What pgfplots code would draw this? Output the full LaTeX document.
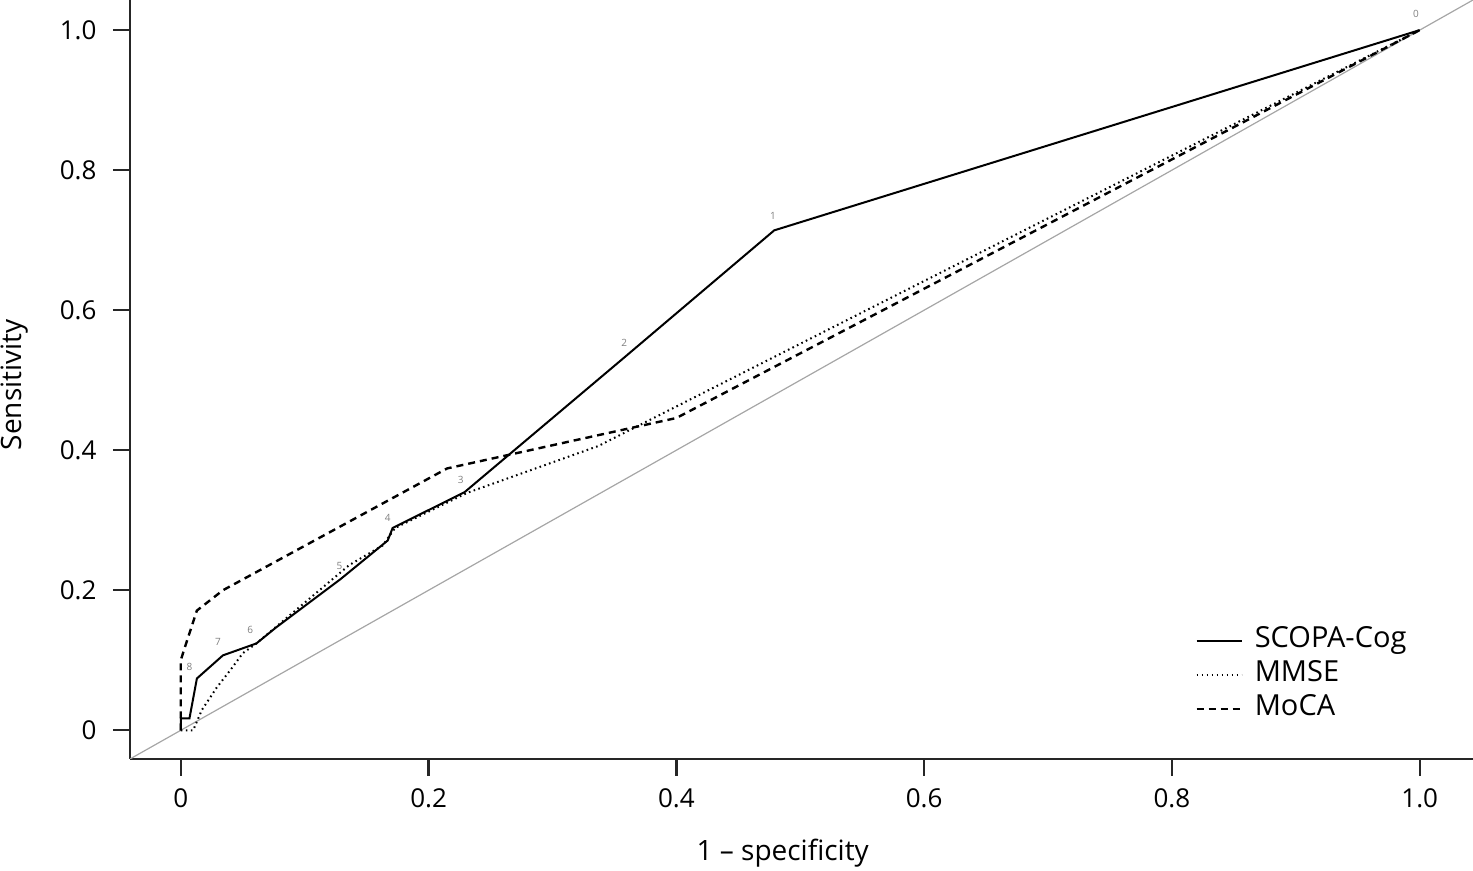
\documentclass[border=0pt]{standalone}
\usepackage{fontspec}
\setmainfont{Open Sans}
\usepackage{pgfplots}
\pgfplotsset{compat=1.18}

\begin{document}
\begin{tikzpicture}
\useasboundingbox (-65pt,-56pt) rectangle (671.5pt,379.5pt);
\begin{axis}[
    at={(0,0)}, anchor=south west,
    scale only axis,
    width=671.5pt, height=379.5pt,
    xmin=-0.041, xmax=1.043,
    ymin=-0.041, ymax=1.043,
    axis x line*=bottom,
    axis y line*=left,
    axis line style={-, line width=1.2pt, black!85},
    tick align=outside,
    major tick length=8.5pt,
    tick style={line width=1.2pt, black!85},
    xtick={0,0.2,0.4,0.6,0.8,1},
    xticklabels={0,0.2,0.4,0.6,0.8,1.0},
    ytick={0,0.2,0.4,0.6,0.8,1},
    yticklabels={0,0.2,0.4,0.6,0.8,1.0},
    x tick label style={font=\fontsize{13}{15}\selectfont, yshift=-2.7pt},
    y tick label style={font=\fontsize{13}{15}\selectfont, xshift=-4.7pt},
    xlabel={1 – specificity},
    ylabel={Sensitivity},
    xlabel style={font=\fontsize{14}{16}\selectfont, at={([yshift=-47pt]rel axis cs:0.486,0)}, anchor=center},
    ylabel style={font=\fontsize{14}{16}\selectfont, at={([xshift=-57.5pt]rel axis cs:0,0.493)}, anchor=center, rotate=0},
    legend cell align=left,
    legend style={draw=none, fill=none, inner sep=0pt,
        at={(rel axis cs:0.793,0.043)}, anchor=south west,
        font=\fontsize{14.5}{16}\selectfont,
        nodes={text height=10pt, text depth=3pt, inner sep=2pt},
        column sep=4pt},
    legend image code/.code={\draw[#1] (0pt,0pt) -- (22.5pt,0pt);},
]
% chance line
\addplot[gray!70, line width=0.6pt, forget plot] coordinates {(-0.041,-0.041) (1.043,1.043)};

% SCOPA-Cog
\addplot[black, line width=1pt] coordinates {
    (0,0) (0,0.017) (0.007,0.017) (0.009,0.036) (0.013,0.074)
    (0.034,0.107) (0.061,0.124) (0.077,0.147) (0.129,0.216)
    (0.167,0.271) (0.171,0.289) (0.229,0.340) (0.357,0.531)
    (0.479,0.714) (1,1)
};
% MMSE
\addplot[black, line width=1pt, dash pattern=on 0.8pt off 1.7pt] coordinates {
    (0,0) (0.010,0) (0.017,0.029) (0.029,0.061) (0.040,0.086)
    (0.050,0.110) (0.061,0.124) (0.136,0.236) (0.163,0.264)
    (0.173,0.289) (0.231,0.339) (0.337,0.406) (1,1)
};
% MoCA
\addplot[black, line width=1.2pt, dash pattern=on 3.5pt off 2.5pt] coordinates {
    (0,0) (0,0.100) (0.003,0.117) (0.013,0.171) (0.034,0.200)
    (0.215,0.374) (0.400,0.446) (1,1)
};
\legend{SCOPA-Cog,MMSE,MoCA}

% threshold labels
\begin{scope}[every node/.style={font=\fontsize{5}{6}\selectfont, text=gray}]
\node at (axis cs:0.997,1.023) {0};
\node at (axis cs:0.478,0.734) {1};
\node at (axis cs:0.358,0.554) {2};
\node at (axis cs:0.226,0.357) {3};
\node at (axis cs:0.167,0.304) {4};
\node at (axis cs:0.128,0.234) {5};
\node at (axis cs:0.056,0.144) {6};
\node at (axis cs:0.030,0.126) {7};
\node at (axis cs:0.007,0.090) {8};
\end{scope}
\end{axis}
\end{tikzpicture}
\end{document}
